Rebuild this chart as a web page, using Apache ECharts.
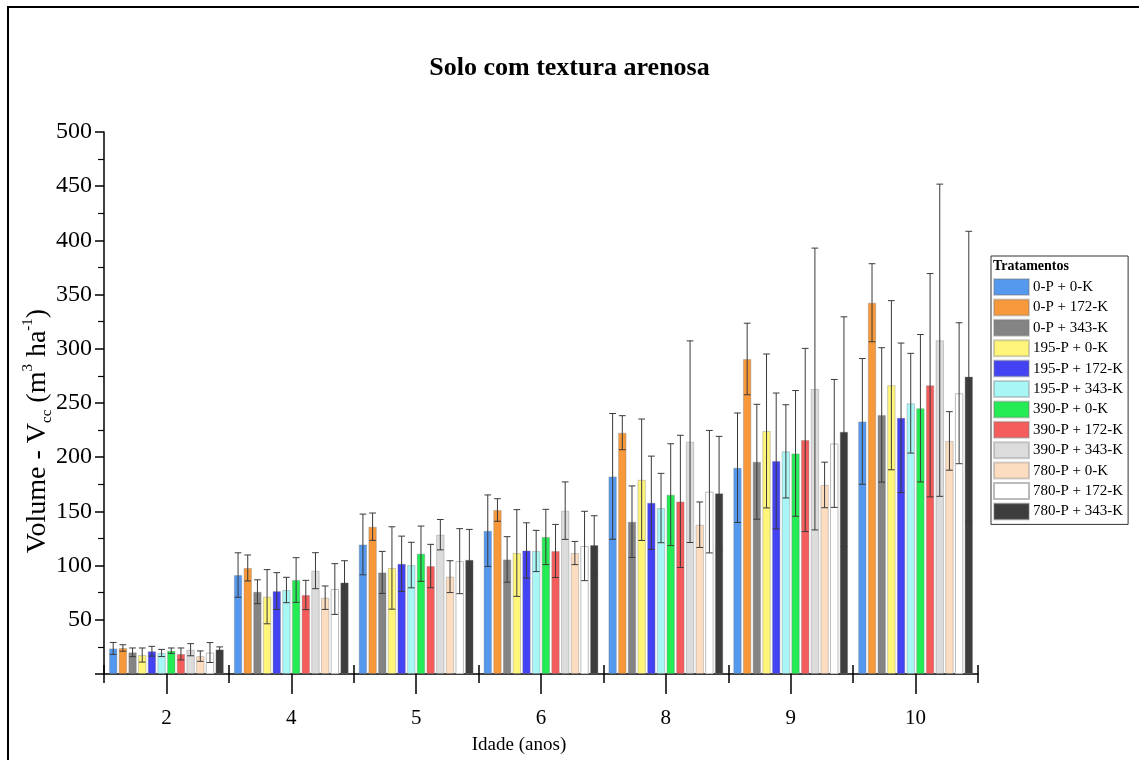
<!DOCTYPE html>
<html>
<head>
<meta charset="utf-8">
<script src="https://cdn.jsdelivr.net/npm/echarts@6/dist/echarts.min.js"></script>
<style>
  html, body { margin: 0; padding: 0; background: #fff; }
  #chart { width: 1139px; height: 760px; }
</style>
</head>
<body>
<div id="chart"></div>
<script>
// idades (categorias do eixo x)
const ages = ["2", "4", "5", "6", "8", "9", "10"];

const treatments = [
  "0-P + 0-K", "0-P + 172-K", "0-P + 343-K",
  "195-P + 0-K", "195-P + 172-K", "195-P + 343-K",
  "390-P + 0-K", "390-P + 172-K", "390-P + 343-K",
  "780-P + 0-K", "780-P + 172-K", "780-P + 343-K"
];

const colors = [
  "#5599EE", "#F7993B", "#848484", "#FFF57A", "#4343F3", "#A8F6F6",
  "#25EC55", "#F55D5D", "#DCDCDC", "#FDDDBF", "#FFFFFF", "#3D3D3D"
];

// média de cada tratamento por idade
const v0 = [23.6, 91.3, 119.5, 132.2, 182.3, 190.3, 233];
const v1 = [24, 97.8, 135.9, 151.3, 222.6, 290.6, 342.5];
const v2 = [20, 75.9, 93.7, 105.7, 140.5, 195.8, 239];
const v3 = [17.5, 71.3, 97.8, 111.6, 179.2, 224.2, 266.4];
const v4 = [21, 76.5, 101.7, 114, 158, 196.5, 236.3];
const v5 = [19.4, 77.5, 100.5, 113.5, 153.1, 205.4, 249.8];
const v6 = [21.5, 86.7, 111, 126.4, 165.4, 203.5, 245.2];
const v7 = [18.5, 72.9, 99.6, 113.5, 159.2, 215.9, 266.4];
const v8 = [22.4, 95.3, 128.5, 150.7, 214.3, 262.9, 307.9];
const v9 = [16.5, 70.4, 89.8, 111.6, 137.7, 174.4, 215];
const v10 = [19.8, 78.4, 104.1, 118.1, 168.2, 212.7, 259];
const v11 = [22.7, 84.5, 105.4, 119, 166.7, 223.5, 274.4];

// desvio (barra de erro)
const e0 = [5.5, 20.5, 28, 33, 58, 50.5, 58];
const e1 = [3, 12, 12.6, 10.4, 15.7, 33, 36];
const e2 = [4, 11, 19.4, 21, 33, 53, 62];
const e3 = [6.5, 25, 38, 40, 56, 71, 78];
const e4 = [4.5, 17, 25.5, 25.5, 43, 62.7, 69];
const e5 = [3.3, 11.7, 21, 19, 32, 43, 46];
const e6 = [2.5, 20.6, 25.5, 25.5, 47, 58, 68];
const e7 = [5.5, 13.5, 20, 24.5, 61, 84.5, 103];
const e8 = [5.6, 16.6, 14, 26.5, 93, 130, 144];
const e9 = [4.8, 10.8, 14.7, 10.7, 21, 21, 27];
const e10 = [9.2, 23.4, 30, 32, 56.5, 59, 65];
const e11 = [2.3, 20, 28, 27, 52.5, 106, 134];

const values = [v0, v1, v2, v3, v4, v5, v6, v7, v8, v9, v10, v11];
const errors = [e0, e1, e2, e3, e4, e5, e6, e7, e8, e9, e10, e11];

const FONT = "Liberation Serif";
const CAT_GAP = 0.08;
const BAR_GAP = 0.15;

const chart = echarts.init(document.getElementById("chart"));

const barSeries = treatments.map((name, i) => ({
  name: name,
  type: "bar",
  data: values[i],
  barCategoryGap: CAT_GAP * 100 + "%",
  barGap: BAR_GAP * 100 + "%",
  itemStyle: {
    color: colors[i],
    borderColor: i === 10 ? "#bbbbbb" : "rgba(120,120,120,0.35)",
    borderWidth: 1
  }
}));

// dados das barras de erro: [idade, media, desvio, tratamento]
const errData = [];
values.forEach((vals, i) => {
  vals.forEach((v, j) => errData.push([j, v, errors[i][j], i]));
});

const errSeries = {
  type: "custom",
  name: "erro",
  silent: true,
  z: 10,
  data: errData,
  encode: { x: 0, y: [1] },
  renderItem: function (params, api) {
    const cat = api.value(0);
    const mean = api.value(1);
    const err = api.value(2);
    const idx = api.value(3);
    const n = treatments.length;
    const catW = api.size([1, 0])[0];
    const area = catW * (1 - CAT_GAP);
    const bw = area / (n + (n - 1) * BAR_GAP);
    const off = -area / 2 + bw / 2 + idx * bw * (1 + BAR_GAP);
    const top = api.coord([cat, mean + err]);
    const bot = api.coord([cat, mean - err]);
    const x = top[0] + off;
    const cap = bw * 0.4;
    const st = { stroke: "#3a3a3a", lineWidth: 1 };
    return {
      type: "group",
      children: [
        { type: "line", shape: { x1: x, y1: top[1], x2: x, y2: bot[1] }, style: st },
        { type: "line", shape: { x1: x - cap, y1: top[1], x2: x + cap, y2: top[1] }, style: st },
        { type: "line", shape: { x1: x - cap, y1: bot[1], x2: x + cap, y2: bot[1] }, style: st }
      ]
    };
  }
};

const option = {
  animation: false,
  backgroundColor: "#fff",
  textStyle: { fontFamily: FONT, color: "#000" },
  title: {
    text: "Solo com textura arenosa",
    left: "center",
    top: 50,
    textStyle: { fontFamily: FONT, fontSize: 26, fontWeight: "bold", color: "#000" }
  },
  graphic: [
    {
      type: "rect",
      shape: { x: 8, y: 7, width: 1150, height: 780 },
      style: { fill: "none", stroke: "#000", lineWidth: 2 },
      silent: true
    },
    {
      type: "text",
      left: 993,
      top: 259,
      style: { text: "Tratamentos", font: "bold 14px 'Liberation Serif'", fill: "#000" }
    },
    {
      // título do eixo y
      type: "text",
      x: 38,
      y: 431,
      rotation: Math.PI / 2,
      style: {
        text: "{a|Volume - V}{b|cc}{a| (m}{c|3}{a| ha}{c|-1}{a|)}",
        align: "center",
        verticalAlign: "middle",
        rich: {
          a: { fontFamily: FONT, fontSize: 28, fill: "#000", lineHeight: 34 },
          b: { fontFamily: FONT, fontSize: 15, fill: "#000", verticalAlign: "bottom", lineHeight: 34 },
          c: { fontFamily: FONT, fontSize: 15, fill: "#000", verticalAlign: "top", lineHeight: 34 }
        }
      }
    },
    {
      // título do eixo x
      type: "text",
      x: 519,
      y: 745,
      style: {
        text: "Idade (anos)",
        align: "center",
        verticalAlign: "middle",
        font: "19px 'Liberation Serif'",
        fill: "#000"
      }
    }
  ],
  legend: {
    data: treatments,
    orient: "vertical",
    left: 991,
    top: 256,
    padding: [22, 5, 4, 2],
    icon: "rect",
    itemWidth: 35,
    itemHeight: 16,
    itemGap: 2.4,
    borderColor: "#333",
    borderWidth: 1,
    selectedMode: false,
    textStyle: { fontFamily: FONT, fontSize: 15, color: "#000", padding: [0, 0, 0, -1] }
  },
  grid: { left: 104, right: 161, top: 132, bottom: 86 },
  xAxis: [
    {
      type: "category",
      data: ages,
      axisLine: { lineStyle: { color: "#000", width: 1.5 } },
      axisTick: { show: true, alignWithLabel: true, length: 20, lineStyle: { color: "#000", width: 1.5 } },
      axisLabel: { fontFamily: FONT, fontSize: 21, color: "#000", margin: 34 }
    },
    {
      type: "category",
      data: ages,
      position: "bottom",
      axisLine: { show: false },
      axisTick: { show: true, length: 9, lineStyle: { color: "#000", width: 1.5 } },
      axisLabel: { show: false }
    },
    {
      type: "category",
      data: ages,
      position: "bottom",
      axisLine: { show: false },
      axisTick: { show: true, inside: true, length: 9, lineStyle: { color: "#000", width: 1.5 } },
      axisLabel: { show: false }
    }
  ],
  yAxis: {
    type: "value",
    min: 0,
    max: 500,
    interval: 50,
    axisLine: { show: true, lineStyle: { color: "#000", width: 1.5 } },
    axisTick: { show: true, length: 9, lineStyle: { color: "#000", width: 1.5 } },
    minorTick: { show: true, splitNumber: 2, length: 6, lineStyle: { color: "#000", width: 1.2 } },
    splitLine: { show: false },
    axisLabel: {
      fontFamily: FONT,
      fontSize: 24,
      color: "#000",
      margin: 12,
      formatter: function (v) { return v === 0 ? "" : String(v); }
    }
  },
  series: barSeries.concat([errSeries])
};

chart.setOption(option);
</script>
</body>
</html>
